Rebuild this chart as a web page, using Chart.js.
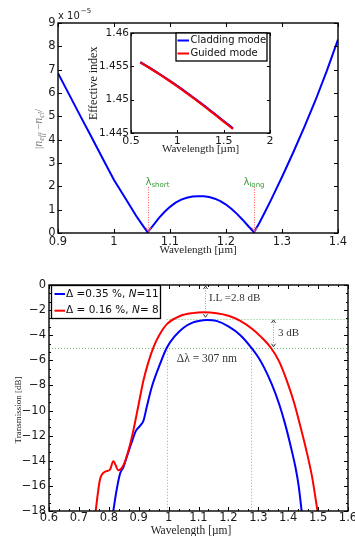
<!DOCTYPE html>
<html><head><meta charset="utf-8"><title>chart</title>
<script src="https://cdn.jsdelivr.net/npm/chart.js@4.4.1/dist/chart.umd.min.js"></script>
<style>
html,body{margin:0;padding:0;background:#fff;}
body{position:relative;width:355px;height:536px;overflow:hidden;}
canvas{position:absolute;display:block;}
</style></head><body>
<canvas id="topChart" width="355" height="262" style="left:0;top:0"></canvas>
<canvas id="insetChart" width="195" height="140" style="left:85px;top:20px"></canvas>
<canvas id="bottomChart" width="355" height="280" style="left:0;top:262px"></canvas>
<script>
// ---------------- data ----------------
const topWavelength = [0.90,0.92,0.94,0.96,0.98,1.00,1.02,1.04,1.05,1.06,1.07,1.08,1.09,1.10,1.11,1.12,1.13,1.14,1.15,1.16,1.17,1.18,1.19,1.20,1.21,1.22,1.23,1.24,1.25,1.26,1.27,1.28,1.29,1.30,1.32,1.34,1.36,1.38,1.40];
const topIndexDiff = [6.85,5.93,5.01,4.10,3.18,2.27,1.50,0.72,0.37,0.03,0.33,0.64,0.90,1.12,1.30,1.43,1.51,1.56,1.57,1.57,1.54,1.47,1.37,1.22,1.03,0.81,0.56,0.29,0.03,0.45,0.92,1.40,1.90,2.40,3.45,4.55,5.70,6.95,8.29];
const topXTicks = [0.9,1.0,1.1,1.2,1.3,1.4];
const topXTickLabels = ['0.9','1','1.1','1.2','1.3','1.4'];
const topYTicks = [0,1,2,3,4,5,6,7,8,9];
const topYTickLabels = ['0','1','2','3','4','5','6','7','8','9'];
const lambdaMarks = [1.06, 1.25];
const lambdaNames = ['short', 'long'];

const insetWavelength = [0.6,0.7,0.8,0.9,1.0,1.1,1.2,1.3,1.4,1.5,1.6];
const claddingIndex = [1.45562,1.45478,1.45391,1.45300,1.45205,1.45106,1.45003,1.44898,1.44790,1.44680,1.44568];
const guidedIndex   = [1.45560,1.45475,1.45387,1.45295,1.45199,1.45099,1.44996,1.44890,1.44782,1.44672,1.44560];
const insetXTicks = [0.5,1.0,1.5,2.0];
const insetXTickLabels = ['0.5','1','1.5','2'];
const insetYTicks = [1.445,1.45,1.455,1.46];
const insetYTickLabels = ['1.445','1.45','1.455','1.46'];
const insetNames = ['Cladding mode','Guided mode'];

const wavelengthA = [0.815,0.826,0.838,0.849,0.860,0.877,0.891,0.905,0.916,0.927,0.944,0.972,0.994,1.02,1.05,1.08,1.10,1.129,1.16,1.20,1.24,1.277,1.30,1.32,1.345,1.37,1.39,1.41,1.425,1.435,1.445];
const transmissionA = [-18,-16.35,-15.0,-14.5,-13.7,-12.5,-11.6,-11.2,-10.8,-9.7,-8.1,-6.25,-5.0,-4.1,-3.4,-3.0,-2.87,-2.79,-2.86,-3.3,-4.0,-5.0,-5.75,-6.6,-7.9,-9.5,-11.1,-13.0,-14.6,-16.0,-18];
const wavelengthB = [0.756,0.770,0.787,0.804,0.815,0.832,0.849,0.866,0.882,0.899,0.916,0.933,0.950,0.970,0.995,1.04,1.08,1.118,1.16,1.20,1.24,1.28,1.31,1.342,1.37,1.395,1.42,1.44,1.46,1.48,1.498];
const transmissionB = [-18,-15.55,-14.88,-14.7,-14.03,-14.75,-14.35,-13.16,-11.6,-9.6,-7.58,-6.1,-4.92,-3.95,-3.1,-2.45,-2.24,-2.18,-2.25,-2.45,-2.85,-3.5,-4.15,-5.0,-6.1,-7.6,-9.4,-11.2,-13.1,-15.3,-18];
const botXTicks = [0.6,0.7,0.8,0.9,1.0,1.1,1.2,1.3,1.4,1.5,1.6];
const botXTickLabels = ['0.6','0.7','0.8','0.9','1','1.1','1.2','1.3','1.4','1.5','1.6'];
const botYTicks = [-18,-16,-14,-12,-10,-8,-6,-4,-2,0];
const botYTickLabels = ['\u221218','\u221216','\u221214','\u221212','\u221210','\u22128','\u22126','\u22124','\u22122','0'];
const insertionLoss = -2.8, bandTop = -2.7, bandLevel = -5, bandEdges = [0.993, 1.277];

// ---------------- helpers ----------------
const SANS = '"DejaVu Sans", sans-serif';
const SERIF = '"Liberation Serif", "Times New Roman", serif';
Chart.defaults.font.family = SANS;

function pts(xs, ys){ return xs.map((x,i)=>({x:x, y:ys[i]})); }

function axis(o){
  return {
    type:'linear', position:o.position, min:o.min, max:o.max,
    grid:{display:false, drawTicks:false}, border:{display:false},
    afterBuildTicks: s => { s.ticks = o.ticks.map(v=>({value:v})); },
    afterFit: s => {
      if (o.position === 'left') s.width = o.size; else s.height = o.size;
      s.paddingLeft = 0; s.paddingRight = 0; s.paddingTop = 0; s.paddingBottom = 0;
    },
    ticks:{autoSkip:false, maxRotation:0, minRotation:0, padding:o.pad, color:'#1a1a1a',
      font:{family:SANS, size:o.font}, callback:(v,i)=>o.labels[i]},
    title: o.title ? {display:true, text:o.title, color:'#222',
      font:{family:SERIF, size:o.titleSize}, padding:{top:0, bottom:o.titlePad}} : {display:false}
  };
}

function richText(ctx, parts, x, y, align){
  let total = 0;
  parts.forEach(p => { ctx.font = p.font; p.w = ctx.measureText(p.t).width; total += p.w; });
  let cx = align === 'center' ? x - total/2 : x;
  parts.forEach(p => { ctx.font = p.font; ctx.fillText(p.t, cx, y + (p.dy||0)); cx += p.w; });
}

function chevron(ctx, x, y, dir, w, h){
  ctx.beginPath();
  ctx.moveTo(x - w/2, y - dir*h); ctx.lineTo(x, y); ctx.lineTo(x + w/2, y - dir*h);
  ctx.stroke();
}

function boxTicks(chart, len, minorLen, nMinor){
  const {ctx, chartArea:a, scales:{x, y}} = chart;
  const list = (s) => {
    const t = s.ticks.map(k=>k.value), out = [];
    t.forEach(v => out.push([v, len]));
    if (nMinor > 1) for (let i=0;i<t.length-1;i++) for (let j=1;j<nMinor;j++) out.push([t[i]+(t[i+1]-t[i])*j/nMinor, minorLen]);
    return out;
  };
  ctx.save();
  ctx.strokeStyle = '#000'; ctx.lineWidth = 1;
  ctx.beginPath();
  list(x).forEach(([v,l]) => { const p = Math.round(x.getPixelForValue(v)) + 0.5;
    ctx.moveTo(p, a.bottom); ctx.lineTo(p, a.bottom - l); ctx.moveTo(p, a.top); ctx.lineTo(p, a.top + l); });
  list(y).forEach(([v,l]) => { const p = Math.round(y.getPixelForValue(v)) + 0.5;
    ctx.moveTo(a.left, p); ctx.lineTo(a.left + l, p); ctx.moveTo(a.right, p); ctx.lineTo(a.right - l, p); });
  ctx.stroke();
  ctx.lineWidth = 1.4;
  ctx.strokeRect(a.left, a.top, a.right - a.left, a.bottom - a.top);
  ctx.restore();
}

function rotatedText(ctx, parts, cx, cy, color){
  ctx.save();
  ctx.translate(cx, cy); ctx.rotate(-Math.PI/2);
  ctx.fillStyle = color; ctx.textBaseline = 'middle';
  richText(ctx, parts, 0, 0, 'center');
  ctx.restore();
}

// ---------------- top chart ----------------
const topDecor = {
  id:'topDecor',
  afterDatasetsDraw(chart){
    const {ctx, chartArea:a, scales:{x, y}} = chart;
    boxTicks(chart, 4, 0, 1);
    ctx.save();
    ctx.fillStyle = '#1a1a1a'; ctx.textAlign = 'left'; ctx.textBaseline = 'alphabetic';
    ctx.font = '10px ' + SANS;
    ctx.fillText('x 10', a.left, a.top - 4.5);
    const w = ctx.measureText('x 10').width;
    ctx.font = '7px ' + SANS;
    ctx.fillText('\u22125', a.left + w + 1, a.top - 10);
    rotatedText(ctx, [
      {t:'|', font:'11px ' + SERIF},
      {t:'n', font:'italic 12px ' + SERIF},
      {t:'eff', font:'italic 8px ' + SERIF, dy:3},
      {t:' \u2212', font:'11px ' + SERIF},
      {t:'n', font:'italic 12px ' + SERIF},
      {t:'cl', font:'italic 8px ' + SERIF, dy:3},
      {t:'/', font:'11px ' + SERIF}
    ], 39, 129, '#7a7a7a');
    const offs = [-3, -11];
    lambdaMarks.forEach((m, i) => {
      const px = Math.round(x.getPixelForValue(m)) + 0.5;
      const yTop = y.getPixelForValue(1.97), yBot = y.getPixelForValue(0.06);
      ctx.strokeStyle = '#ff5a5a'; ctx.lineWidth = 1;
      ctx.setLineDash([1, 1.5]);
      ctx.beginPath(); ctx.moveTo(px, yTop); ctx.lineTo(px, yBot); ctx.stroke();
      ctx.setLineDash([]);
      chevron(ctx, px, yBot, 1, 5, 4);
      ctx.fillStyle = '#3a9a3a';
      ctx.font = '10px ' + SANS;
      ctx.fillText('\u03bb', px + offs[i], yTop - 2.5);
      const lw = ctx.measureText('\u03bb').width;
      ctx.font = '7px ' + SANS;
      ctx.fillText(lambdaNames[i], px + offs[i] + lw, yTop);
    });
    ctx.restore();
  }
};

new Chart(document.getElementById('topChart'), {
  type:'line',
  data:{datasets:[{data:pts(topWavelength, topIndexDiff), borderColor:'#0000ff', borderWidth:2, pointRadius:0, tension:0, fill:false}]},
  options:{
    responsive:false, animation:false, devicePixelRatio:1, events:[],
    layout:{padding:{top:23, right:17, left:0, bottom:0}},
    plugins:{legend:{display:false}, tooltip:{enabled:false}},
    scales:{
      x: axis({position:'bottom', min:0.9, max:1.4, ticks:topXTicks, labels:topXTickLabels, size:29, pad:2, font:11.5, title:'Wavelength [\u00b5m]', titleSize:11, titlePad:4.9}),
      y: axis({position:'left', min:0, max:9, ticks:topYTicks, labels:topYTickLabels, size:58, pad:2.5, font:11.5})
    }
  },
  plugins:[topDecor]
});

// ---------------- inset ----------------
const insetDecor = {
  id:'insetDecor',
  afterDatasetsDraw(chart){
    const {ctx, chartArea:a} = chart;
    boxTicks(chart, 3, 0, 1);
    ctx.save();
    // legend
    const bx = a.left + 45, by = a.top, bw = 91, bh = 28;
    ctx.fillStyle = '#fff'; ctx.fillRect(bx, by, bw, bh);
    ctx.strokeStyle = '#000'; ctx.lineWidth = 1.3; ctx.strokeRect(bx, by, bw, bh);
    const cols = ['#0000ff', '#ff0000'];
    insetNames.forEach((n, i) => {
      const ry = by + 7.5 + i*13;
      ctx.strokeStyle = cols[i]; ctx.lineWidth = 2;
      ctx.beginPath(); ctx.moveTo(bx + 1.5, ry); ctx.lineTo(bx + 13, ry); ctx.stroke();
      ctx.fillStyle = '#111'; ctx.font = '10px ' + SANS; ctx.textBaseline = 'middle'; ctx.textAlign = 'left';
      ctx.fillText(n, bx + 14.5, ry);
    });
    rotatedText(ctx, [{t:'Effective index', font:'12px ' + SERIF}], 9, 63.3, '#222');
    ctx.restore();
  }
};

new Chart(document.getElementById('insetChart'), {
  type:'line',
  data:{datasets:[
    {data:pts(insetWavelength, guidedIndex), borderColor:'#ff0000', borderWidth:2.2, pointRadius:0, tension:0.3, fill:false},
    {data:pts(insetWavelength, claddingIndex), borderColor:'#0000ff', borderWidth:2.2, pointRadius:0, tension:0.3, fill:false}
  ]},
  options:{
    responsive:false, animation:false, devicePixelRatio:1, events:[],
    layout:{padding:{top:13, right:10, left:0, bottom:0}},
    plugins:{legend:{display:false}, tooltip:{enabled:false}},
    scales:{
      x: axis({position:'bottom', min:0.5, max:2, ticks:insetXTicks, labels:insetXTickLabels, size:27, pad:2, font:11, title:'Wavelength [\u00b5m]', titleSize:11, titlePad:4.4}),
      y: axis({position:'left', min:1.445, max:1.46, ticks:insetYTicks, labels:insetYTickLabels, size:46, pad:2, font:10.5})
    }
  },
  plugins:[insetDecor]
});

// ---------------- bottom chart ----------------
const bottomGuides = {
  id:'bottomGuides',
  beforeDatasetsDraw(chart){
    const {ctx, scales:{x, y}} = chart;
    ctx.save();
    ctx.strokeStyle = '#74c874'; ctx.lineWidth = 1; ctx.setLineDash([1, 2]);
    const h = (v, x0, x1) => { const p = Math.round(y.getPixelForValue(v)) + 0.5;
      ctx.beginPath(); ctx.moveTo(x.getPixelForValue(x0), p); ctx.lineTo(x.getPixelForValue(x1), p); ctx.stroke(); };
    const vl = (u, y0, y1) => { const p = Math.round(x.getPixelForValue(u)) + 0.5;
      ctx.beginPath(); ctx.moveTo(p, y.getPixelForValue(y0)); ctx.lineTo(p, y.getPixelForValue(y1)); ctx.stroke(); };
    h(bandTop, bandEdges[0], 1.6);
    h(bandLevel, 0.6, 1.6);
    vl(bandEdges[0], bandLevel, -18);
    vl(bandEdges[1], bandLevel, -18);
    ctx.restore();
  }
};

const bottomDecor = {
  id:'bottomDecor',
  afterDatasetsDraw(chart){
    const {ctx, chartArea:a, scales:{x, y}} = chart;
    boxTicks(chart, 4, 2, 3);
    ctx.save();
    // double arrows
    const arrow = (u, v0, v1) => {
      const p = Math.round(x.getPixelForValue(u)) + 0.5;
      const y0 = y.getPixelForValue(v0) + 1, y1 = y.getPixelForValue(v1) - 1;
      ctx.strokeStyle = '#9a9a9a'; ctx.lineWidth = 1; ctx.setLineDash([1, 1.5]);
      ctx.beginPath(); ctx.moveTo(p, y0 + 2); ctx.lineTo(p, y1 - 2); ctx.stroke();
      ctx.setLineDash([]); ctx.strokeStyle = '#333';
      chevron(ctx, p, y0, -1, 4, 3);
      chevron(ctx, p, y1, 1, 4, 3);
    };
    arrow(1.121, 0, -2.65);
    arrow(1.348, bandTop, bandLevel);
    ctx.fillStyle = '#333'; ctx.textAlign = 'left'; ctx.textBaseline = 'middle';
    ctx.font = '11px ' + SERIF;
    ctx.fillText('I.L =2.8 dB', x.getPixelForValue(1.135), y.getPixelForValue(-1.06));
    ctx.fillText('3 dB', x.getPixelForValue(1.366), y.getPixelForValue(-3.83));
    ctx.font = '11.5px ' + SERIF;
    ctx.fillText('\u0394\u03bb = 307 nm', x.getPixelForValue(1.0275), y.getPixelForValue(-5.93));
    // legend
    const bx = a.left + 2.5, by = a.top + 0.5, bw = 109, bh = 33;
    ctx.fillStyle = '#fff'; ctx.fillRect(bx, by, bw, bh);
    ctx.strokeStyle = '#000'; ctx.lineWidth = 1.3; ctx.strokeRect(bx, by, bw, bh);
    const rows = [
      {c:'#0000ff', parts:[{t:'\u0394 =0.35 %, '},{t:'N', it:true},{t:'=11'}]},
      {c:'#ff0000', parts:[{t:'\u0394 = 0.16 %, '},{t:'N', it:true},{t:'= 8'}]}
    ];
    rows.forEach((r, i) => {
      const ry = by + 8.5 + i*16.7;
      ctx.strokeStyle = r.c; ctx.lineWidth = 2;
      ctx.beginPath(); ctx.moveTo(bx + 3, ry); ctx.lineTo(bx + 13.5, ry); ctx.stroke();
      ctx.fillStyle = '#111'; ctx.textBaseline = 'middle';
      richText(ctx, r.parts.map(p => ({t:p.t, font:(p.it ? 'italic ' : '') + '10.5px ' + SANS})), bx + 14.5, ry, 'left');
    });
    rotatedText(ctx, [{t:'Transmission [dB]', font:'9px ' + SERIF}], 19, 148, '#222');
    ctx.fillStyle = '#222'; ctx.textAlign = 'center'; ctx.textBaseline = 'alphabetic';
    ctx.font = '11.5px ' + SERIF;
    ctx.fillText('Wavelength [\u00b5m]', 191, 272.3);
    ctx.restore();
  }
};

new Chart(document.getElementById('bottomChart'), {
  type:'line',
  data:{datasets:[
    {data:pts(wavelengthB, transmissionB), borderColor:'#ff0000', borderWidth:2, pointRadius:0, cubicInterpolationMode:'monotone', fill:false},
    {data:pts(wavelengthA, transmissionA), borderColor:'#0000ff', borderWidth:2, pointRadius:0, cubicInterpolationMode:'monotone', fill:false}
  ]},
  options:{
    responsive:false, animation:false, devicePixelRatio:1, events:[],
    layout:{padding:{top:23, right:7, left:0, bottom:0}},
    plugins:{legend:{display:false}, tooltip:{enabled:false}},
    scales:{
      x: axis({position:'bottom', min:0.6, max:1.6, ticks:botXTicks, labels:botXTickLabels, size:31, pad:0, font:11.5}),
      y: axis({position:'left', min:-18, max:0, ticks:botYTicks, labels:botYTickLabels, size:49, pad:3, font:11.5})
    }
  },
  plugins:[bottomGuides, bottomDecor]
});
</script></body></html>
